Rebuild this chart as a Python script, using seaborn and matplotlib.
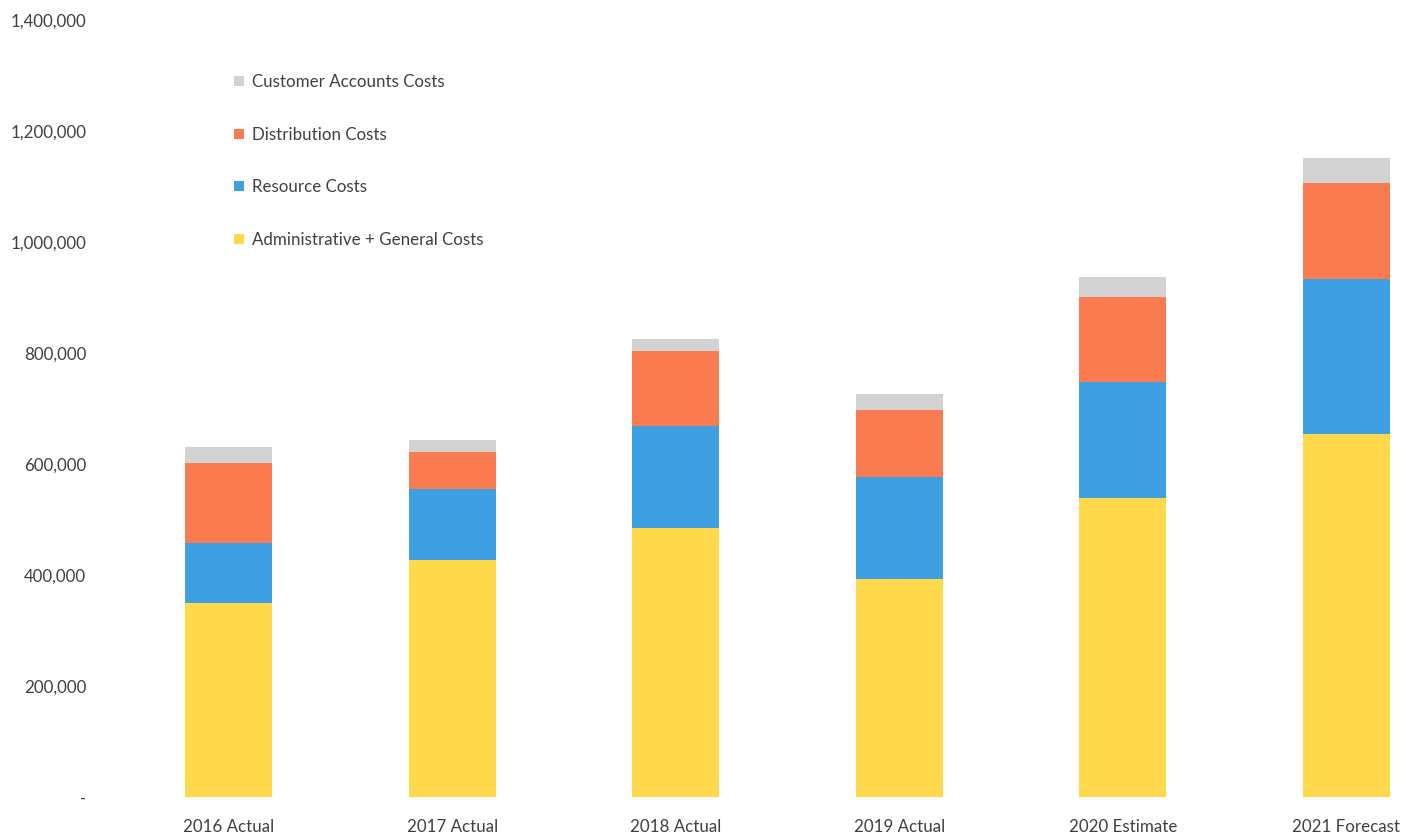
import matplotlib
matplotlib.use("Agg")
import matplotlib.pyplot as plt
import seaborn as sns
import numpy as np
import pandas as pd
from matplotlib.lines import Line2D
from matplotlib.ticker import FuncFormatter

categories = ["2016 Actual", "2017 Actual", "2018 Actual", "2019 Actual", "2020 Estimate", "2021 Forecast"]
admin_general = [349000, 426500, 484200, 393400, 538800, 654100]
resource = [109200, 128500, 184300, 182700, 209600, 278800]
distribution = [143100, 66100, 135700, 121300, 153100, 173000]
customer_accounts = [29900, 22200, 20600, 28800, 36100, 45000]

series_names = ["Administrative + General Costs", "Resource Costs", "Distribution Costs", "Customer Accounts Costs"]
colors = ["#FFD84C", "#3EA0E2", "#FA7B50", "#D2D2D2"]

sns.set_theme(style="white")
plt.rcParams["font.family"] = ["Lato", "DejaVu Sans"]

layers = [admin_general, resource, distribution, customer_accounts]
cum = np.cumsum(np.array(layers, dtype=float), axis=0)

fig = plt.figure(figsize=(14.09, 8.38), dpi=100)
ax = fig.add_axes([117 / 1409, 41 / 838, 1 - 117 / 1409, 777 / 838])

# draw from top-most cumulative to bottom
for i in range(len(layers) - 1, -1, -1):
    df = pd.DataFrame({"cat": categories, "val": cum[i]})
    sns.barplot(data=df, x="cat", y="val", order=categories, color=colors[i],
                width=0.39, ax=ax, saturation=1, linewidth=0)

ax.set_xlim(-0.5, 5.28)
ax.set_ylim(0, 1400000)
ax.set_yticks(np.arange(0, 1400001, 200000))
ax.yaxis.set_major_formatter(FuncFormatter(lambda v, p: "-" if v == 0 else f"{int(v):,}"))
ax.set_xlabel("")
ax.set_ylabel("")
for s in ax.spines.values():
    s.set_visible(False)
ax.tick_params(axis="y", length=0, pad=22, labelsize=12.2, labelcolor="#404040")
ax.tick_params(axis="x", length=0, pad=16, labelsize=12.2, labelcolor="#404040")

handles = [Line2D([0], [0], marker="s", linestyle="", markersize=7,
                  markerfacecolor=colors[i], markeredgewidth=0, label=series_names[i])
           for i in range(len(layers) - 1, -1, -1)]
leg = fig.legend(handles=handles, loc="upper left", bbox_to_anchor=(215 / 1409, 1 - 59 / 838),
                 frameon=False, fontsize=12.2, labelspacing=2.15, handletextpad=0.3,
                 handlelength=1.0, labelcolor="#404040")

fig.savefig("out.png", dpi=100)
